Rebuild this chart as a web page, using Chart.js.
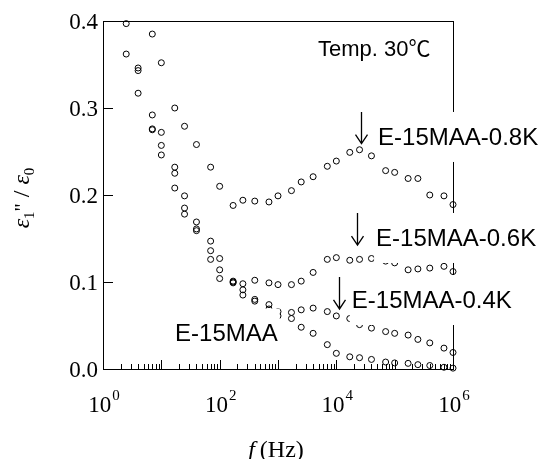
<!DOCTYPE html>
<html>
<head>
<meta charset="utf-8">
<script src="https://cdn.jsdelivr.net/npm/chart.js@4.4.1/dist/chart.umd.min.js"></script>
<style>
  html, body { margin: 0; padding: 0; background: #fff; }
  canvas { display: block; }
</style>
</head>
<body>
<canvas id="chart" width="549" height="459"></canvas>
<script>
// frequencies (Hz), 5 points per decade
const freqs = [2.5, 4, 7, 10, 17, 25, 40, 70, 100, 170, 250, 400, 700,
  1e3, 1.7e3, 2.5e3, 4e3, 7e3, 1e4, 1.7e4, 2.5e4, 4e4, 7e4,
  1e5, 1.7e5, 2.5e5, 4e5, 7e5, 1e6];

// e1''/e0 for each sample (null = above 0.4, off the plot)
const k08 = [null, null, 0.385, 0.352, 0.300, 0.279, 0.258, 0.232, 0.210, 0.188, 0.194, 0.193, 0.192,
  0.199, 0.205, 0.215, 0.221, 0.233, 0.239, 0.249, 0.252, 0.245, 0.228,
  0.226, 0.219, 0.219, 0.200, 0.199, 0.189];
const k06 = [null, 0.346, 0.292, 0.272, 0.232, 0.199, 0.169, 0.147, 0.127, 0.101, 0.098, 0.102, 0.099,
  0.097, 0.097, 0.101, 0.111, 0.126, 0.128, 0.125, 0.126, 0.127, 0.124,
  0.122, 0.114, 0.115, 0.116, 0.118, 0.112];
const k04 = [0.397, 0.343, 0.276, 0.257, 0.225, 0.185, 0.161, 0.136, 0.114, 0.100, 0.091, 0.080, 0.074,
  0.066, 0.065, 0.068, 0.070, 0.066, 0.061, 0.058, 0.051, 0.047, 0.043,
  0.041, 0.039, 0.034, 0.030, 0.024, 0.019];
const base = [0.362, 0.317, 0.275, 0.246, 0.208, 0.178, 0.159, 0.126, 0.104, 0.099, 0.085, 0.078, 0.069,
  0.061, 0.058, 0.048, 0.041, 0.028, 0.018, 0.014, 0.013, 0.011, 0.008,
  0.007, 0.0065, 0.005, 0.004, 0.002, 0.001];

const yTicks = [0, 0.1, 0.2, 0.3, 0.4];
const xDecades = [0, 2, 4, 6];

// text labels, anchored in data units (left edge, vertical centre)
const notes = [
  { text: 'E-15MAA-0.8K', f: 5.2e4, v: 0.2667, arrow: { f: 2.6e4, from: 0.2954, to: 0.2590 } },
  { text: 'E-15MAA-0.6K', f: 4.8e4, v: 0.1506, arrow: { f: 2.25e4, from: 0.1793, to: 0.1425 } },
  { text: 'E-15MAA-0.4K', f: 1.84e4, v: 0.0793, arrow: { f: 1.13e4, from: 0.1057, to: 0.0690 } },
  { text: 'E-15MAA', f: 17.2, v: 0.0408 }
];

function pts(vals) {
  return freqs.map((f, i) => vals[i] == null ? null : { x: f, y: vals[i] }).filter(Boolean);
}

function ds(label, vals) {
  return {
    label, data: pts(vals), showLine: false,
    pointStyle: 'circle', pointRadius: 3, pointHoverRadius: 3,
    pointBorderWidth: 1, pointBorderColor: '#000', pointBackgroundColor: 'rgba(0,0,0,0)',
    clip: false
  };
}

const axesPlugin = {
  id: 'axesPlugin',
  beforeDatasetsDraw(chart) {
    const { ctx, chartArea: a, scales: { x, y } } = chart;
    ctx.save();
    ctx.strokeStyle = '#000';
    ctx.lineWidth = 1;
    ctx.strokeRect(a.left + 0.5, a.top + 0.5, a.right - a.left, a.bottom - a.top);
    ctx.beginPath();
    for (let d = 0; d <= 6; d++) {
      for (let m = 1; m <= 9; m++) {
        const f = m * Math.pow(10, d);
        if (f > 1e6) break;
        const px = Math.round(x.getPixelForValue(f)) + 0.5;
        const len = m === 1 ? 9 : 5;
        ctx.moveTo(px, a.bottom); ctx.lineTo(px, a.bottom - len);
      }
    }
    yTicks.forEach(v => {
      const py = Math.round(y.getPixelForValue(v)) + 0.5;
      ctx.moveTo(a.left, py); ctx.lineTo(a.left + 10, py);
    });
    ctx.stroke();

    ctx.fillStyle = '#000';
    ctx.font = '23px "Liberation Serif"';
    ctx.textAlign = 'right';
    ctx.textBaseline = 'alphabetic';
    yTicks.forEach(v => ctx.fillText(v.toFixed(1), a.left - 5, y.getPixelForValue(v) + 8));

    ctx.textAlign = 'left';
    xDecades.forEach(d => {
      const px = x.getPixelForValue(Math.pow(10, d));
      ctx.font = '23px "Liberation Serif"';
      const w1 = ctx.measureText('10').width;
      ctx.font = '15px "Liberation Serif"';
      const w2 = ctx.measureText(String(d)).width;
      const x0 = px - (w1 + 1 + w2) / 2 + 1;
      ctx.font = '23px "Liberation Serif"';
      ctx.fillText('10', x0, a.bottom + 43);
      ctx.font = '15px "Liberation Serif"';
      ctx.fillText(String(d), x0 + w1 + 1, a.bottom + 31);
    });

    // x title
    ctx.font = 'italic 24px "Liberation Serif"';
    const wf = ctx.measureText('f').width;
    ctx.font = '24px "Liberation Serif"';
    const wh = ctx.measureText('(Hz)').width;
    let tx = 276 - (wf + 5 + wh) / 2;
    ctx.font = 'italic 24px "Liberation Serif"';
    ctx.fillText('f', tx, 457);
    ctx.font = '24px "Liberation Serif"';
    ctx.fillText('(Hz)', tx + wf + 5, 457);

    // y title, rotated
    const parts = [
      { t: '\u03b5', font: 'italic 24px "Liberation Serif"', dy: 0 },
      { t: '1', font: '15px "Liberation Serif"', dy: 5 },
      { t: '"', font: '20px "Liberation Serif"', dy: 0 },
      { t: ' / ', font: '24px "Liberation Serif"', dy: 0 },
      { t: '\u03b5', font: 'italic 24px "Liberation Serif"', dy: 0 },
      { t: '0', font: '15px "Liberation Serif"', dy: 5 }
    ];
    let total = 0;
    parts.forEach(p => { ctx.font = p.font; p.w = ctx.measureText(p.t).width; total += p.w; });
    ctx.translate(29, 198);
    ctx.rotate(-Math.PI / 2);
    let cx = -total / 2;
    parts.forEach(p => { ctx.font = p.font; ctx.fillText(p.t, cx, p.dy); cx += p.w; });
    ctx.restore();
  },
  afterDatasetsDraw(chart) {
    const { ctx, scales: { x, y } } = chart;
    ctx.save();
    ctx.textBaseline = 'middle';
    ctx.textAlign = 'left';
    notes.forEach(n => {
      ctx.font = '24px "Liberation Sans"';
      const lx = x.getPixelForValue(n.f), cy = y.getPixelForValue(n.v);
      const w = ctx.measureText(n.text).width;
      ctx.fillStyle = '#fff';
      ctx.fillRect(lx - 2, cy - 25, w + 4, 50);
      ctx.fillStyle = '#000';
      ctx.fillText(n.text, lx, cy + 1);
      if (n.arrow) {
        const ax = Math.round(x.getPixelForValue(n.arrow.f)) + 0.5;
        const y1 = y.getPixelForValue(n.arrow.from), y2 = y.getPixelForValue(n.arrow.to);
        ctx.strokeStyle = '#000';
        ctx.lineWidth = 1.3;
        ctx.beginPath();
        ctx.moveTo(ax, y1); ctx.lineTo(ax, y2);
        ctx.moveTo(ax - 6, y2 - 9); ctx.lineTo(ax, y2); ctx.lineTo(ax + 6, y2 - 9);
        ctx.stroke();
      }
    });
    ctx.font = '22px "Liberation Sans", "Noto Sans CJK JP"';
    ctx.fillStyle = '#000';
    ctx.fillText('Temp. 30\u2103', x.getPixelForValue(4850), y.getPixelForValue(0.3667));
    ctx.restore();
  }
};

new Chart(document.getElementById('chart'), {
  type: 'scatter',
  data: {
    datasets: [
      ds('E-15MAA-0.8K', k08),
      ds('E-15MAA-0.6K', k06),
      ds('E-15MAA-0.4K', k04),
      ds('E-15MAA', base)
    ]
  },
  options: {
    responsive: false,
    animation: false,
    events: [],
    layout: { padding: { left: 103, right: 96, top: 21, bottom: 90 } },
    scales: {
      x: { type: 'logarithmic', min: 1, max: 1e6, display: false },
      y: { type: 'linear', min: 0, max: 0.4, display: false }
    },
    plugins: { legend: { display: false }, tooltip: { enabled: false } }
  },
  plugins: [axesPlugin]
});
</script>
</body>
</html>
